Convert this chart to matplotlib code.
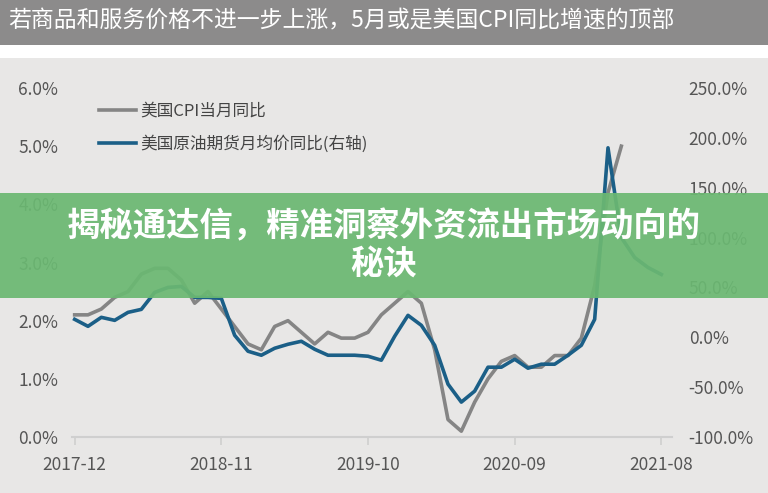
import matplotlib
matplotlib.use("Agg")
import matplotlib.pyplot as plt
import matplotlib.patches as mpatches

plt.rcParams["font.family"] = ["Noto Sans CJK SC", "DejaVu Sans"]

title = "若商品和服务价格不进一步上涨，5月或是美国CPI同比增速的顶部"
banner = "揭秘通达信，精准洞察外资流出市场动向的\n秘诀"
cpi_label = "美国CPI当月同比"
oil_label = "美国原油期货月均价同比(右轴)"
tick_labels = ["2017-12", "2018-11", "2019-10", "2020-09", "2021-08"]

# monthly, starting 2017-12
cpi = [2.1, 2.1, 2.2, 2.4, 2.5, 2.8, 2.9, 2.9, 2.7, 2.3, 2.5, 2.2, 1.9, 1.6,
       1.5, 1.9, 2.0, 1.8, 1.6, 1.8, 1.7, 1.7, 1.8, 2.1, 2.3, 2.5, 2.3, 1.5,
       0.3, 0.1, 0.6, 1.0, 1.3, 1.4, 1.2, 1.2, 1.4, 1.4, 1.7, 2.6, 4.2, 5.0]
oil = [18, 11, 20, 17, 25, 28, 45, 50, 51, 40, 40, 39, 2, -14, -18, -11,
       -7, -4, -12, -18, -18, -18, -19, -23, 1, 22, 12, -8, -47, -65, -54,
       -30, -30, -22, -31, -27, -27, -18, -8, 18, 190, 100, 80, 70, 63]

W, H = 768, 493
fig = plt.figure(figsize=(W / 100, H / 100), dpi=100)
fig.patch.set_facecolor("#e8e7e6")

# title bar
fig.patches.append(mpatches.Rectangle((0, 1 - 45 / H), 1, 45 / H, transform=fig.transFigure,
                                      facecolor="#8c8b8b", zorder=0))
fig.patches.append(mpatches.Rectangle((0, 1 - 58 / H), 1, 13 / H, transform=fig.transFigure,
                                      facecolor="white", zorder=0))
fig.text(8 / W, 1 - 21 / H, title, color="white", fontsize=16.5, va="center", ha="left")

ax = fig.add_axes([72 / W, 56 / H, 600 / W, 349 / H])
ax.set_facecolor("none")
ax2 = ax.twinx()

gray, blue = "#858585", "#1b5f87"
ax.plot(range(len(cpi)), cpi, color=gray, lw=2.6, label=cpi_label)
ax2.plot(range(len(oil)), oil, color=blue, lw=2.6, label=oil_label)

ax.set_xlim(-0.2, 44.8)
ax.set_ylim(0, 6)
ax2.set_ylim(-100, 250)
ax.set_xticks([0, 11, 22, 33, 44])
ax.set_xticklabels(tick_labels)
ax.set_yticks([0, 1, 2, 3, 4, 5, 6])
ax.set_yticklabels([f"{v:.1f}%" for v in range(7)])
ax2.set_yticks(range(-100, 251, 50))
ax2.set_yticklabels([f"{v:.1f}%" for v in range(-100, 251, 50)])

for a in (ax, ax2):
    for s in a.spines.values():
        s.set_visible(False)
    a.tick_params(axis="y", length=0, labelsize=12.5, labelcolor="#555555")
ax.tick_params(axis="y", pad=10)
ax2.tick_params(axis="y", pad=12)
ax.spines["bottom"].set_visible(True)
ax.spines["bottom"].set_color("#cfcfcf")
ax.spines["bottom"].set_linewidth(1.5)
ax.tick_params(axis="x", length=6, color="#cfcfcf", width=1.2, labelsize=12.5,
               labelcolor="#555555", pad=8)

h1, l1 = ax.get_legend_handles_labels()
h2, l2 = ax2.get_legend_handles_labels()
ax.legend(h1 + h2, l1 + l2, loc="upper left", bbox_to_anchor=(0.02, 1.0), frameon=False,
          fontsize=12, handlelength=2.2, labelspacing=0.9, handletextpad=0.3,
          labelcolor="#444444")

# green banner overlay
fig.patches.append(mpatches.Rectangle((0, (H - 298) / H), 1, 105 / H, transform=fig.transFigure,
                                      facecolor="#6bb872", alpha=0.93, zorder=10))
fig.text(0.5, (H - 245) / H, banner, color="white", fontsize=24, fontweight="heavy",
         ha="center", va="center", linespacing=1.15, zorder=11)

fig.savefig("out.png", dpi=100, facecolor=fig.get_facecolor())
